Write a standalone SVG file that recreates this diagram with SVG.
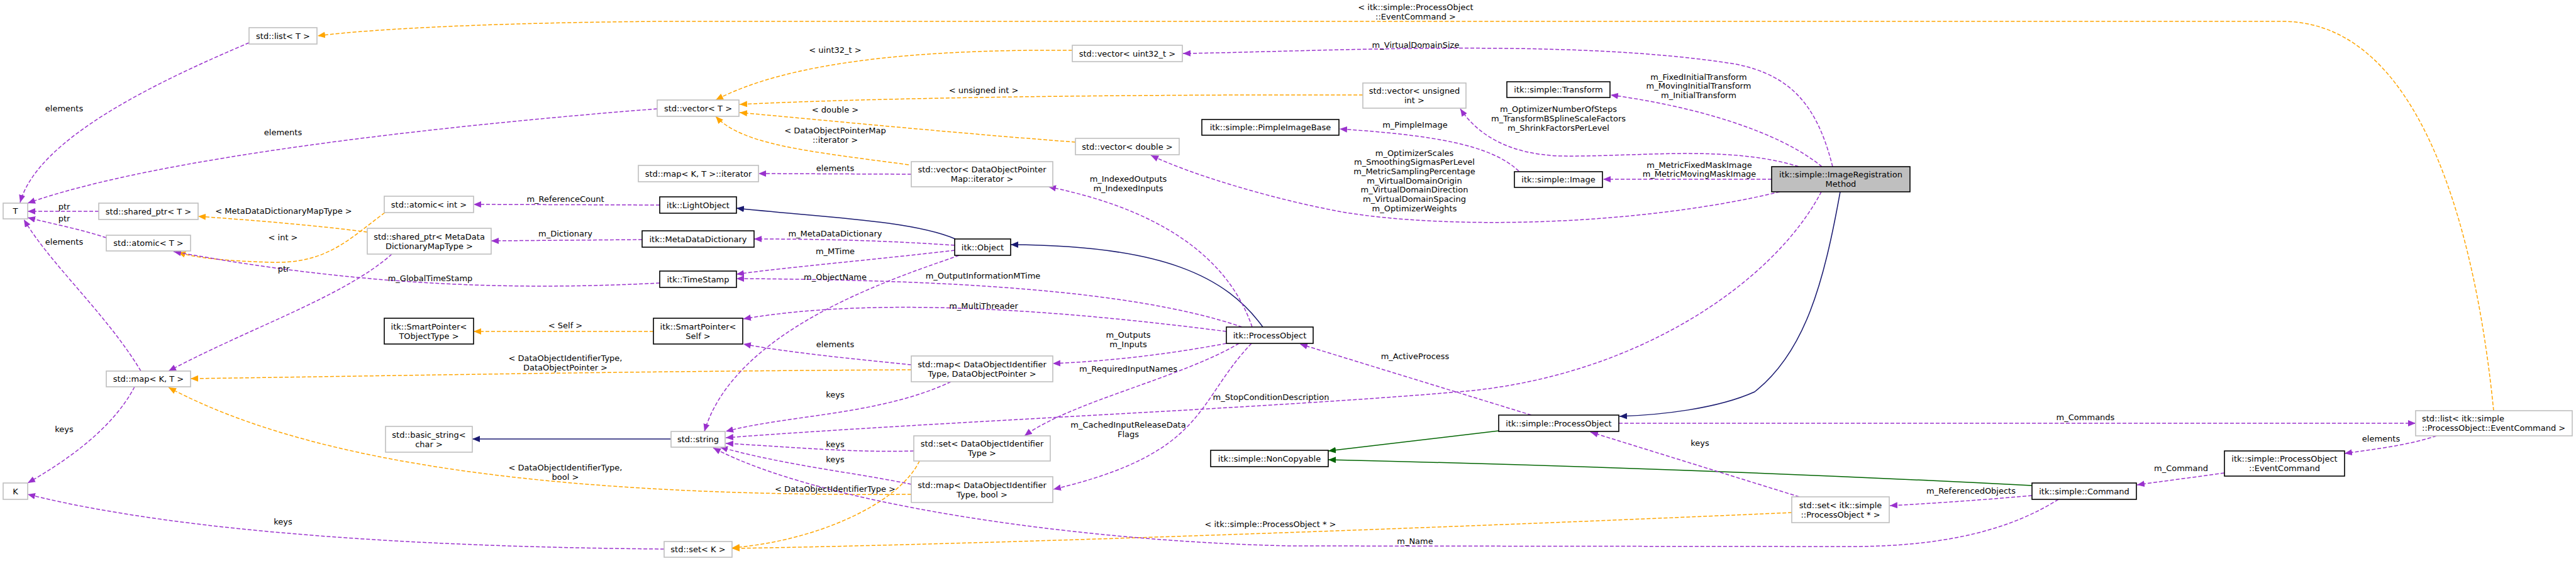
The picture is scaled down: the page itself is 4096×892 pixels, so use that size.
<svg xmlns="http://www.w3.org/2000/svg" width="4096" height="892" viewBox="0 0 4096 892">
<style>
text{font-family:"DejaVu Sans","Liberation Sans",sans-serif;font-size:13px;fill:#000;text-anchor:middle}
.g rect{fill:#fff;stroke:#bfbfbf;stroke-width:1.6}
.b rect{fill:#fff;stroke:#000;stroke-width:1.6}
.h rect{fill:#bfbfbf;stroke:#000;stroke-width:1.6}
.p{fill:none;stroke:#9a32cd;stroke-width:1.5;stroke-dasharray:6,3;marker-end:url(#mp)}
.o{fill:none;stroke:#ffa500;stroke-width:1.5;stroke-dasharray:6,3;marker-end:url(#mo)}
.u{fill:none;stroke:#191970;stroke-width:1.5;marker-end:url(#mu)}
.v{fill:none;stroke:#006400;stroke-width:1.5;marker-end:url(#mv)}
</style>
<defs>
<marker id="mp" markerWidth="13" markerHeight="11" refX="12" refY="5" orient="auto" markerUnits="userSpaceOnUse"><path d="M0,0 L12,5 L0,10 z" fill="#9a32cd"/></marker>
<marker id="mo" markerWidth="13" markerHeight="11" refX="12" refY="5" orient="auto" markerUnits="userSpaceOnUse"><path d="M0,0 L12,5 L0,10 z" fill="#ffa500"/></marker>
<marker id="mu" markerWidth="13" markerHeight="11" refX="12" refY="5" orient="auto" markerUnits="userSpaceOnUse"><path d="M0,0 L12,5 L0,10 z" fill="#191970"/></marker>
<marker id="mv" markerWidth="13" markerHeight="11" refX="12" refY="5" orient="auto" markerUnits="userSpaceOnUse"><path d="M0,0 L12,5 L0,10 z" fill="#006400"/></marker>
</defs>
<rect width="4096" height="892" fill="#fff"/>
<g id="connectors">
<path class="p" d="M396,68 C250,130 60,220 32,322"/>
<path class="p" d="M1045,173 C700,200 250,250 44,323"/>
<path class="p" d="M157,336 L44,336"/>
<path class="p" d="M169,378 C130,365 80,355 44,346"/>
<path class="p" d="M224,590 C170,500 80,420 38,349"/>
<path class="p" d="M214,615 C180,680 110,730 44,768"/>
<path class="p" d="M1056,873 C700,870 300,850 44,786"/>
<path class="o" d="M584,369 C500,358 400,350 315,344"/>
<path class="o" d="M612,338 C555,380 520,420 430,417 C360,415 310,410 283,401"/>
<path class="p" d="M1049,450 C850,460 600,460 276,400"/>
<path class="p" d="M623,404 C550,470 400,520 268,590"/>
<path class="p" d="M1049,326 L753,325"/>
<path class="p" d="M1021,381 L781,383"/>
<path class="o" d="M1039,527 L753,527"/>
<path class="o" d="M1449,588 C1000,590 600,598 303,602"/>
<path class="o" d="M1449,786 C900,790 500,740 268,616"/>
<path class="u" d="M1067,698 L751,698"/>
<path class="o" d="M2849,815 C2400,835 1600,865 1164,872"/>
<path class="o" d="M1462,733 C1430,800 1300,860 1164,871"/>
<path class="o" d="M1705,80 C1450,78 1250,100 1138,159"/>
<path class="o" d="M2167,151 C1800,150 1400,155 1176,166"/>
<path class="o" d="M1710,226 C1500,210 1300,190 1176,179"/>
<path class="o" d="M1445,262 C1280,240 1180,230 1138,185"/>
<path class="p" d="M1449,277 L1206,276"/>
<path class="u" d="M1519,380 C1450,350 1300,345 1171,331"/>
<path class="p" d="M1518,390 C1400,382 1300,380 1199,380"/>
<path class="p" d="M1518,398 C1400,412 1250,425 1171,436"/>
<path class="p" d="M1525,406 C1430,440 1170,520 1120,686"/>
<path class="p" d="M1975,520 C1800,460 1500,445 1171,443"/>
<path class="u" d="M2008,520 C1950,440 1850,390 1607,389"/>
<path class="p" d="M1991,520 C1950,400 1830,330 1667,297"/>
<path class="p" d="M1950,527 C1700,495 1400,470 1182,507"/>
<path class="p" d="M1950,546 C1850,565 1750,575 1674,578"/>
<path class="p" d="M1970,546 C1880,600 1700,640 1629,693"/>
<path class="p" d="M1990,546 C1900,640 1920,720 1675,778"/>
<path class="p" d="M1449,580 C1350,570 1250,560 1182,547"/>
<path class="p" d="M1512,607 C1400,660 1250,660 1154,686"/>
<path class="p" d="M1453,717 C1350,720 1250,710 1154,705"/>
<path class="p" d="M1449,770 C1350,750 1250,740 1145,711"/>
<path class="p" d="M2896,305 C2820,450 2600,600 2320,623 C2000,650 1500,670 1154,696"/>
<path class="p" d="M2435,660 L2067,547"/>
<path class="v" d="M2383,685 L2112,717"/>
<path class="v" d="M3231,772 C2900,755 2500,740 2112,731"/>
<path class="u" d="M2926,305 C2900,450 2870,560 2790,623 C2730,650 2640,660 2575,662"/>
<path class="p" d="M2574,673 L3841,673"/>
<path class="p" d="M3874,693 C3830,708 3770,715 3728,721"/>
<path class="p" d="M3537,752 C3480,760 3440,765 3398,771"/>
<path class="p" d="M3231,788 C3150,795 3080,800 3005,804"/>
<path class="p" d="M2861,790 L2529,687"/>
<path class="p" d="M3273,794 C3200,840 3100,868 2950,869 L2050,868 C1700,860 1300,800 1134,712"/>
<path class="o" d="M3965,653 C3940,400 3860,34 3629,34 L1050,34 C800,36 600,45 505,57"/>
<path class="p" d="M2914,265 C2890,170 2850,120 2760,102 C2500,60 2100,82 1881,85"/>
<path class="p" d="M2897,265 C2830,210 2700,170 2561,151"/>
<path class="p" d="M2860,265 C2750,230 2600,250 2480,248 C2400,245 2350,215 2322,173"/>
<path class="p" d="M2415,272 C2370,230 2280,215 2130,205"/>
<path class="p" d="M2817,285 L2549,285"/>
<path class="p" d="M2830,305 C2600,360 2300,365 2134,337 C2030,318 1900,280 1830,247"/>
<g id="edge-labels">
<text x="102" y="177">elements</text>
<text x="450" y="215">elements</text>
<text x="102" y="333">ptr</text>
<text x="102" y="352">ptr</text>
<text x="102" y="389">elements</text>
<text x="102" y="687">keys</text>
<text x="450" y="834">keys</text>
<text x="451" y="340">&lt; MetaDataDictionaryMapType &gt;</text>
<text x="450" y="382">&lt; int &gt;</text>
<text x="451" y="432">ptr</text>
<text x="684" y="447">m_GlobalTimeStamp</text>
<text x="899" y="321">m_ReferenceCount</text>
<text x="899" y="376">m_Dictionary</text>
<text x="899" y="522">&lt; Self &gt;</text>
<text x="899" y="574">&lt; DataObjectIdentifierType,</text>
<text x="899" y="589">DataObjectPointer &gt;</text>
<text x="899" y="748">&lt; DataObjectIdentifierType,</text>
<text x="899" y="763">bool &gt;</text>
<text x="2020" y="838">&lt; itk::simple::ProcessObject * &gt;</text>
<text x="1328" y="782">&lt; DataObjectIdentifierType &gt;</text>
<text x="1328" y="84">&lt; uint32_t &gt;</text>
<text x="1564" y="148">&lt; unsigned int &gt;</text>
<text x="1328" y="179">&lt; double &gt;</text>
<text x="1328" y="212">&lt; DataObjectPointerMap</text>
<text x="1328" y="227">::iterator &gt;</text>
<text x="1328" y="272">elements</text>
<text x="1328" y="376">m_MetaDataDictionary</text>
<text x="1328" y="404">m_MTime</text>
<text x="1328" y="445">m_ObjectName</text>
<text x="1563" y="443">m_OutputInformationMTime</text>
<text x="1794" y="289">m_IndexedOutputs</text>
<text x="1794" y="304">m_IndexedInputs</text>
<text x="1564" y="491">m_MultiThreader</text>
<text x="1794" y="537">m_Outputs</text>
<text x="1794" y="552">m_Inputs</text>
<text x="1794" y="591">m_RequiredInputNames</text>
<text x="1794" y="680">m_CachedInputReleaseData</text>
<text x="1794" y="695">Flags</text>
<text x="1328" y="552">elements</text>
<text x="1328" y="632">keys</text>
<text x="1328" y="711">keys</text>
<text x="1328" y="735">keys</text>
<text x="2021" y="636">m_StopConditionDescription</text>
<text x="2250" y="571">m_ActiveProcess</text>
<text x="3316" y="668">m_Commands</text>
<text x="3786" y="702">elements</text>
<text x="3468" y="749">m_Command</text>
<text x="3134" y="785">m_ReferencedObjects</text>
<text x="2703" y="709">keys</text>
<text x="2250" y="865">m_Name</text>
<text x="2251" y="16">&lt; itk::simple::ProcessObject</text>
<text x="2251" y="31">::EventCommand &gt;</text>
<text x="2251" y="76">m_VirtualDomainSize</text>
<text x="2701" y="127">m_FixedInitialTransform</text>
<text x="2701" y="141">m_MovingInitialTransform</text>
<text x="2701" y="156">m_InitialTransform</text>
<text x="2478" y="178">m_OptimizerNumberOfSteps</text>
<text x="2478" y="193">m_TransformBSplineScaleFactors</text>
<text x="2478" y="208">m_ShrinkFactorsPerLevel</text>
<text x="2250" y="203">m_PimpleImage</text>
<text x="2702" y="267">m_MetricFixedMaskImage</text>
<text x="2702" y="281">m_MetricMovingMaskImage</text>
<text x="2249" y="248">m_OptimizerScales</text>
<text x="2249" y="262">m_SmoothingSigmasPerLevel</text>
<text x="2249" y="277">m_MetricSamplingPercentage</text>
<text x="2249" y="292">m_VirtualDomainOrigin</text>
<text x="2249" y="306">m_VirtualDomainDirection</text>
<text x="2249" y="321">m_VirtualDomainSpacing</text>
<text x="2249" y="336">m_OptimizerWeights</text>
</g>
</g>
<g id="n_T" class="g"><rect x="5" y="323" width="39" height="25"/><text x="24.5" y="340">T</text></g>
<g id="n_K" class="g"><rect x="5" y="768" width="39" height="26"/><text x="24.5" y="785.5">K</text></g>
<g id="n_listT" class="g"><rect x="396" y="44" width="108" height="26"/><text x="450" y="61.5">std::list&lt; T &gt;</text></g>
<g id="n_sptrT" class="g"><rect x="157" y="323" width="158" height="26"/><text x="236" y="340.5">std::shared_ptr&lt; T &gt;</text></g>
<g id="n_atomicT" class="g"><rect x="169" y="374" width="134" height="25"/><text x="236" y="391">std::atomic&lt; T &gt;</text></g>
<g id="n_mapKT" class="g"><rect x="169" y="590" width="134" height="25"/><text x="236" y="607">std::map&lt; K, T &gt;</text></g>
<g id="n_atomicInt" class="g"><rect x="611" y="312" width="142" height="26"/><text x="682" y="329.5">std::atomic&lt; int &gt;</text></g>
<g id="n_sptrMD" class="g"><rect x="584" y="363" width="197" height="41"/><text x="682.5" y="380.5">std::shared_ptr&lt; MetaData</text><text x="682.5" y="395.5">DictionaryMapType &gt;</text></g>
<g id="n_spTObj" class="b"><rect x="611" y="506" width="142" height="41"/><text x="682" y="523.5">itk::SmartPointer&lt;</text><text x="682" y="538.5">TObjectType &gt;</text></g>
<g id="n_bstr" class="g"><rect x="613" y="678" width="138" height="41"/><text x="682" y="695.5">std::basic_string&lt;</text><text x="682" y="710.5">char &gt;</text></g>
<g id="n_vecT" class="g"><rect x="1045" y="159" width="130" height="26"/><text x="1110" y="176.5">std::vector&lt; T &gt;</text></g>
<g id="n_mapIt" class="g"><rect x="1015" y="263" width="191" height="26"/><text x="1110.5" y="280.5">std::map&lt; K, T &gt;::iterator</text></g>
<g id="n_light" class="b"><rect x="1049" y="313" width="122" height="26"/><text x="1110" y="330.5">itk::LightObject</text></g>
<g id="n_mdd" class="b"><rect x="1021" y="367" width="178" height="26"/><text x="1110" y="384.5">itk::MetaDataDictionary</text></g>
<g id="n_ts" class="b"><rect x="1049" y="431" width="122" height="26"/><text x="1110" y="448.5">itk::TimeStamp</text></g>
<g id="n_spSelf" class="b"><rect x="1039" y="506" width="142" height="41"/><text x="1110" y="523.5">itk::SmartPointer&lt;</text><text x="1110" y="538.5">Self &gt;</text></g>
<g id="n_str" class="g"><rect x="1067" y="686" width="86" height="25"/><text x="1110" y="703">std::string</text></g>
<g id="n_setK" class="g"><rect x="1056" y="861" width="108" height="25"/><text x="1110" y="878">std::set&lt; K &gt;</text></g>
<g id="n_vecU32" class="g"><rect x="1705" y="72" width="175" height="26"/><text x="1792.5" y="89.5">std::vector&lt; uint32_t &gt;</text></g>
<g id="n_vecD" class="g"><rect x="1710" y="220" width="165" height="26"/><text x="1792.5" y="237.5">std::vector&lt; double &gt;</text></g>
<g id="n_vecDOPM" class="g"><rect x="1449" y="257" width="225" height="40"/><text x="1561.5" y="274">std::vector&lt; DataObjectPointer</text><text x="1561.5" y="289">Map::iterator &gt;</text></g>
<g id="n_obj" class="b"><rect x="1518" y="380" width="89" height="26"/><text x="1562.5" y="397.5">itk::Object</text></g>
<g id="n_mapDOP" class="g"><rect x="1449" y="566" width="225" height="41"/><text x="1561.5" y="583.5">std::map&lt; DataObjectIdentifier</text><text x="1561.5" y="598.5">Type, DataObjectPointer &gt;</text></g>
<g id="n_setDOID" class="g"><rect x="1453" y="693" width="217" height="40"/><text x="1561.5" y="710">std::set&lt; DataObjectIdentifier</text><text x="1561.5" y="725">Type &gt;</text></g>
<g id="n_mapBool" class="g"><rect x="1449" y="758" width="225" height="41"/><text x="1561.5" y="775.5">std::map&lt; DataObjectIdentifier</text><text x="1561.5" y="790.5">Type, bool &gt;</text></g>
<g id="n_pimple" class="b"><rect x="1911" y="190" width="218" height="25"/><text x="2020" y="207">itk::simple::PimpleImageBase</text></g>
<g id="n_itkPO" class="b"><rect x="1950" y="520" width="138" height="26"/><text x="2019" y="537.5">itk::ProcessObject</text></g>
<g id="n_nonCopy" class="b"><rect x="1925" y="716" width="187" height="26"/><text x="2018.5" y="733.5">itk::simple::NonCopyable</text></g>
<g id="n_vecUI" class="g"><rect x="2167" y="132" width="164" height="40"/><text x="2249" y="149">std::vector&lt; unsigned</text><text x="2249" y="164">int &gt;</text></g>
<g id="n_transform" class="b"><rect x="2396" y="130" width="164" height="25"/><text x="2478" y="147">itk::simple::Transform</text></g>
<g id="n_image" class="b"><rect x="2408" y="273" width="140" height="25"/><text x="2478" y="290">itk::simple::Image</text></g>
<g id="n_simplePO" class="b"><rect x="2383" y="660" width="191" height="26"/><text x="2478.5" y="677.5">itk::simple::ProcessObject</text></g>
<g id="n_irm" class="h"><rect x="2817" y="265" width="220" height="40"/><text x="2927" y="282">itk::simple::ImageRegistration</text><text x="2927" y="297">Method</text></g>
<g id="n_setPO" class="g"><rect x="2849" y="790" width="155" height="41"/><text x="2926.5" y="807.5">std::set&lt; itk::simple</text><text x="2926.5" y="822.5">::ProcessObject * &gt;</text></g>
<g id="n_cmd" class="b"><rect x="3231" y="768" width="166" height="26"/><text x="3314" y="785.5">itk::simple::Command</text></g>
<g id="n_evtCmd" class="b"><rect x="3537" y="717" width="191" height="40"/><text x="3632.5" y="734">itk::simple::ProcessObject</text><text x="3632.5" y="749">::EventCommand</text></g>
<g id="n_listEC" class="g"><rect x="3841" y="653" width="249" height="40"/><text x="3851" y="670" style="text-anchor:start">std::list&lt; itk::simple</text><text x="3851" y="685" style="text-anchor:start">::ProcessObject::EventCommand &gt;</text></g>
</svg>
